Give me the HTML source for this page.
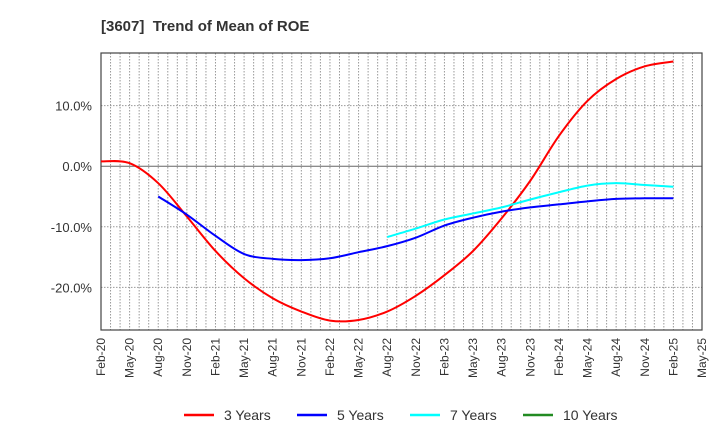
<!DOCTYPE html>
<html><head><meta charset="utf-8"><style>
body{margin:0;background:#fff;font-family:"Liberation Sans",Arial,sans-serif}
</style></head><body>
<svg id="chart" width="720" height="440" xmlns="http://www.w3.org/2000/svg">
<text x="101" y="31" font-size="15" font-weight="bold" fill="#333" style="white-space:pre">[3607]  Trend of Mean of ROE</text>
<g id="grid"></g><g id="axes"></g><g id="series"></g><g id="legend"></g>
</svg>
<script>
const xLabels=["Feb-20","May-20","Aug-20","Nov-20","Feb-21","May-21","Aug-21","Nov-21","Feb-22","May-22","Aug-22","Nov-22","Feb-23","May-23","Aug-23","Nov-23","Feb-24","May-24","Aug-24","Nov-24","Feb-25","May-25"];
const yTicks=[-20,-10,0,10];
const yTickLabels=["-20.0%","-10.0%","0.0%","10.0%"];
const s3=[0.8,0.5,-2.8,-8.3,-14,-18.5,-21.8,-24,-25.5,-25.4,-24,-21.4,-18,-14,-8.6,-2.4,5,10.8,14.4,16.5,17.3];
const s5=[null,null,-5,-8,-11.5,-14.5,-15.3,-15.5,-15.2,-14.2,-13.2,-11.8,-9.8,-8.5,-7.5,-6.8,-6.3,-5.8,-5.4,-5.3,-5.3];
const s7=[null,null,null,null,null,null,null,null,null,null,-11.7,-10.3,-8.8,-7.8,-6.8,-5.5,-4.3,-3.2,-2.8,-3.1,-3.4];
const s10=[];
const names=["3 Years","5 Years","7 Years","10 Years"];
const colors=["#ff0000","#0000ff","#00ffff","#228b22"];
const L=101,R=702,T=53,B=330,yMin=-27.05,yMax=18.7;
const x=i=>L+(R-L)*i/(xLabels.length-1);
const y=v=>B-(v-yMin)/(yMax-yMin)*(B-T);
const NS="http://www.w3.org/2000/svg";
function mk(t,a,p){const e=document.createElementNS(NS,t);for(const k in a)e.setAttribute(k,a[k]);p.appendChild(e);return e;}
const grid=document.getElementById('grid'),axes=document.getElementById('axes'),ser=document.getElementById('series'),leg=document.getElementById('legend');
for(let m=1;m<(xLabels.length-1)*3;m++){const xx=L+(R-L)*m/((xLabels.length-1)*3);
 const g=mk('line',{x1:xx,x2:xx,y1:T,y2:B,stroke:'#999','stroke-dasharray':'1.5,1.5','stroke-width':1},grid);
 
 }
yTicks.forEach((v,i)=>{const yy=y(v);
 const g=mk('line',{x1:L,x2:R,y1:yy,y2:yy,stroke:v===0?'#666':'#999','stroke-dasharray':v===0?'none':'1.5,1.5','stroke-width':1},grid);
 
 
 const t=mk('text',{x:L-9,y:yy+5,'text-anchor':'end','font-size':13,fill:'#333'},axes);t.textContent=yTickLabels[i];
 
 });
const fr=mk('rect',{x:L,y:T,width:R-L,height:B-T,fill:'none',stroke:'#444','stroke-width':1.2},axes);


xLabels.forEach((lb,i)=>{const t=mk('text',{x:0,y:0,'text-anchor':'end','font-size':12,fill:'#333',transform:`translate(${x(i)+4},${B+8}) rotate(-90)`},axes);t.textContent=lb;
 
 });
function path(arr){const p=[];arr.forEach((v,i)=>{if(v!==null&&v!==undefined)p.push([x(i),y(v)]);});
 if(p.length<2)return '';let d=`M${p[0][0]},${p[0][1]}`;
 for(let i=0;i<p.length-1;i++){const p0=p[Math.max(i-1,0)],p1=p[i],p2=p[i+1],p3=p[Math.min(i+2,p.length-1)];
  d+=` C${p1[0]+(p2[0]-p0[0])/6},${p1[1]+(p2[1]-p0[1])/6} ${p2[0]-(p3[0]-p1[0])/6},${p2[1]-(p3[1]-p1[1])/6} ${p2[0]},${p2[1]}`;}
 return d;}
[s3,s5,s7,s10].forEach((s,k)=>{const d=path(s);if(!d)return;
 const e=mk('path',{d:d,fill:'none',stroke:colors[k],'stroke-width':2},ser);
 
 });
names.forEach((n,k)=>{const lx=184+k*113;
 const g=mk('g',{},leg);
 
 
 mk('line',{x1:lx,x2:lx+30,y1:415,y2:415,stroke:colors[k],'stroke-width':2.5},g);
 const t=mk('text',{x:lx+40,y:420,'font-size':14,fill:'#333'},g);t.textContent=n;});
</script>
</body></html>
